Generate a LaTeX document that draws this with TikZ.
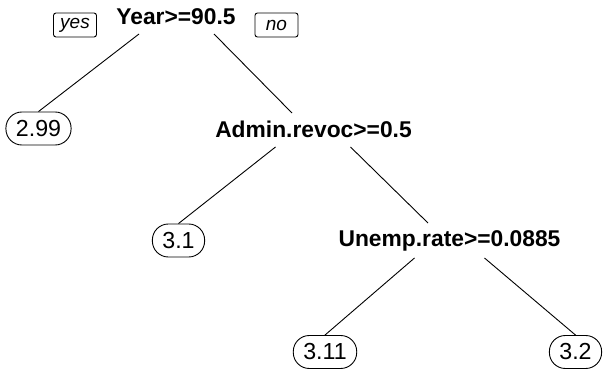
\documentclass[tikz,border=0pt]{standalone}
\usepackage{fontspec}
\setmainfont{Liberation Sans}
\usetikzlibrary{calc}
\begin{document}
\begin{tikzpicture}[x=1pt,y=-1pt,line width=0.9pt,
		split/.style={font=\fontsize{22.8}{26}\selectfont\bfseries,anchor=base,inner sep=0pt},
		leaf/.style={draw,rounded corners=16pt,font=\fontsize{23.2}{26}\selectfont,minimum height=33pt,inner xsep=10pt,inner ysep=0pt},
		tag/.style={draw,rounded corners=2.5pt,font=\fontsize{19}{22}\selectfont\itshape,minimum width=43pt,minimum height=24pt,inner sep=0pt}]
		\useasboundingbox (0,0) rectangle (603,369) ;
		\node[split] (root) at (176,25) {Year>=90.5} ;
		\node[tag] (yes) at (75,25) {yes} ; \node[tag] (no) at (276.5,25) {no} ;
		\node[split] (admin) at (313.5,137) {Admin.revoc>=0.5} ;
		\node[split] (unemp) at (449.5,246) {Unemp.rate>=0.0885} ;
		\node[leaf] (l299) at (38.5,128.5) {2.99} ;
		\node[leaf] (l31) at (178.5,240.5) {3.1} ;
		\node[leaf] (l311) at (325,352) {3.11} ;
		\node[leaf] (l32) at (575.5,352) {3.2} ;
		% branches
		\draw ($(root.base)+(-37,9)$) -- (l299.north) ;
		\draw ($(root.base)+(38,9)$) -- ($(admin.base)+(-21.5,-24)$) ;
		\draw ($(admin.base)+(-38,10)$) -- (l31.north) ;
		\draw ($(admin.base)+(37,10)$) -- ($(unemp.base)+(-21.5,-23)$) ;
		\draw ($(unemp.base)+(-35,12)$) -- (l311.north) ;
		\draw ($(unemp.base)+(35,12)$) -- (l32.north) ;
	\end{tikzpicture}
\end{document}
